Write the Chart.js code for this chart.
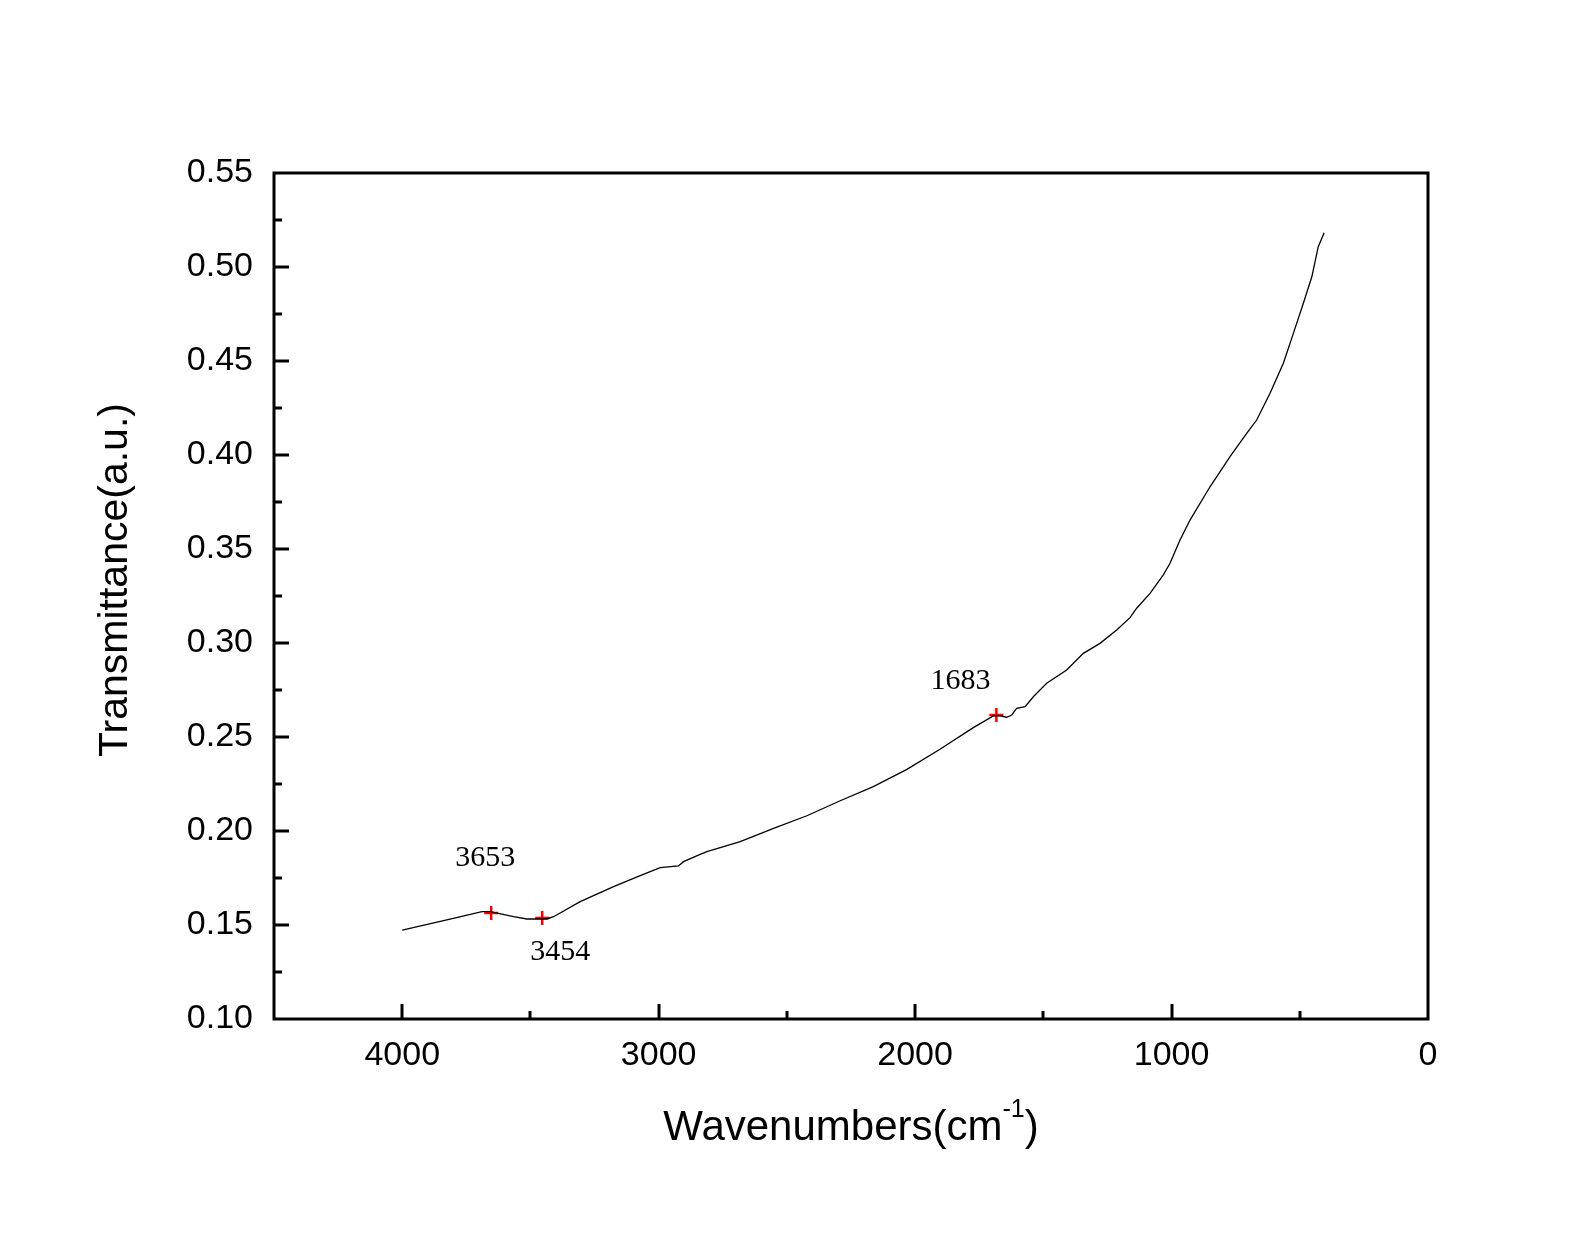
<!DOCTYPE html>
<html>
<head>
<meta charset="utf-8">
<script src="https://cdn.jsdelivr.net/npm/chart.js@4/dist/chart.umd.min.js"></script>
<style>
  html, body { margin: 0; padding: 0; background: #fff; }
  canvas { display: block; }
</style>
</head>
<body>
<canvas id="ftir" width="1592" height="1238"></canvas>
<script>
// spectrum (wavenumber, transmittance)
const wavenumbers = [4000, 3826, 3689, 3657, 3566, 3514, 3436, 3410, 3306, 3176, 3072, 2994, 2923, 2903,
  2845, 2812, 2682, 2552, 2422, 2292, 2163, 2032, 1903, 1773, 1695, 1669, 1643, 1623, 1604, 1571, 1539,
  1487, 1409, 1344, 1279, 1214, 1162, 1136, 1084, 1032, 1006, 967, 928, 850, 772, 707, 668, 616, 564,
  525, 486, 453, 428, 405];
const transmittance = [0.1473, 0.1527, 0.1571, 0.1571, 0.1544, 0.1532, 0.1532, 0.1544, 0.1624, 0.1704,
  0.1763, 0.1805, 0.1814, 0.1837, 0.1872, 0.1890, 0.1943, 0.2014, 0.2081, 0.2161, 0.2236, 0.2328, 0.2435,
  0.2550, 0.2612, 0.2612, 0.2605, 0.2617, 0.2653, 0.2661, 0.2714, 0.2786, 0.2856, 0.2945, 0.2998, 0.3069,
  0.3135, 0.3185, 0.3264, 0.3362, 0.3424, 0.3548, 0.3654, 0.3831, 0.3991, 0.4115, 0.4186, 0.4328, 0.4488,
  0.4647, 0.4807, 0.4948, 0.5108, 0.5182];

// marked peaks
const peakLabels = ['3653', '3454', '1683'];
const peakX = [3653, 3454, 1683];
const peakY = [0.1564, 0.1537, 0.2617];

const xTitle = 'Wavenumbers(cm';
const xTitleSup = '-1';
const yTitle = 'Transmittance(a.u.)';

const sans = '"Liberation Sans", Arial, sans-serif';
const serif = '"Liberation Serif", "Times New Roman", serif';

// label offsets from each marker, in pixels
const labelOffsets = [[-6, -55], [18, 34], [-36, -34]];

const framePlugin = {
  id: 'frame',
  afterDatasetsDraw(chart) {
    const ctx = chart.ctx;
    const a = chart.chartArea;
    const xs = chart.scales.x, ys = chart.scales.y;
    ctx.save();
    ctx.strokeStyle = '#000';
    ctx.lineWidth = 3;
    ctx.strokeRect(a.left, a.top, a.right - a.left, a.bottom - a.top);

    // inward ticks
    ctx.beginPath();
    xs.ticks.forEach(t => {
      const px = Math.round(xs.getPixelForValue(t.value));
      if (px <= a.left + 2 || px >= a.right - 2) return;
      const len = (Math.round(t.value) % 1000 === 0) ? 15 : 8;
      ctx.moveTo(px, a.bottom);
      ctx.lineTo(px, a.bottom - len);
    });
    ys.ticks.forEach(t => {
      const py = Math.round(ys.getPixelForValue(t.value));
      if (py <= a.top + 2 || py >= a.bottom - 2) return;
      const len = (Math.round(t.value * 1000) % 50 === 0) ? 15 : 8;
      ctx.moveTo(a.left, py);
      ctx.lineTo(a.left + len, py);
    });
    ctx.stroke();

    // peak labels
    ctx.fillStyle = '#000';
    ctx.font = '30px ' + serif;
    ctx.textAlign = 'center';
    ctx.textBaseline = 'middle';
    peakLabels.forEach((lab, i) => {
      const px = xs.getPixelForValue(peakX[i]);
      const py = ys.getPixelForValue(peakY[i]);
      ctx.fillText(lab, px + labelOffsets[i][0], py + labelOffsets[i][1]);
    });

    // x title with superscript
    ctx.font = '42px ' + sans;
    ctx.textBaseline = 'alphabetic';
    ctx.textAlign = 'left';
    const w1 = ctx.measureText(xTitle).width;
    ctx.font = '25px ' + sans;
    const w2 = ctx.measureText(xTitleSup).width;
    ctx.font = '42px ' + sans;
    const w3 = ctx.measureText(')').width;
    const cx = (a.left + a.right) / 2;
    const x0 = cx - (w1 + w2 + w3) / 2;
    const base = 1140;
    ctx.fillText(xTitle, x0, base);
    ctx.font = '25px ' + sans;
    ctx.fillText(xTitleSup, x0 + w1, base - 23);
    ctx.font = '42px ' + sans;
    ctx.fillText(')', x0 + w1 + w2, base);

    // y title
    ctx.translate(127, 580);
    ctx.rotate(-Math.PI / 2);
    ctx.font = '41px ' + sans;
    ctx.textAlign = 'center';
    ctx.textBaseline = 'alphabetic';
    ctx.fillText(yTitle, 0, 0);
    ctx.restore();
  }
};

new Chart(document.getElementById('ftir'), {
  type: 'line',
  data: {
    datasets: [
      {
        data: wavenumbers.map((w, i) => ({ x: w, y: transmittance[i] })),
        borderColor: '#000',
        borderWidth: 1.3,
        pointRadius: 0,
        tension: 0,
        fill: false
      },
      {
        data: peakX.map((w, i) => ({ x: w, y: peakY[i] })),
        showLine: false,
        pointStyle: 'cross',
        pointRadius: 7,
        pointBorderWidth: 2.5,
        pointBorderColor: '#ff0000',
        pointBackgroundColor: '#ff0000'
      }
    ]
  },
  options: {
    responsive: false,
    animation: false,
    layout: { padding: { left: 0, right: 164, top: 173, bottom: 0 } },
    plugins: { legend: { display: false }, tooltip: { enabled: false } },
    scales: {
      x: {
        type: 'linear',
        reverse: true,
        min: 0,
        max: 4500,
        grid: { display: false, drawTicks: false },
        border: { display: false },
        ticks: {
          stepSize: 500,
          autoSkip: false,
          maxRotation: 0,
          padding: 16,
          color: '#000',
          font: { family: sans, size: 34 },
          callback: v => (Math.round(v) % 1000 === 0 && v < 4500) ? String(v) : ''
        },
        afterFit: s => { s.height = 219; }
      },
      y: {
        min: 0.10,
        max: 0.55,
        grid: { display: false, drawTicks: false },
        border: { display: false },
        ticks: {
          stepSize: 0.025,
          autoSkip: false,
          padding: 21,
          color: '#000',
          font: { family: sans, size: 34 },
          callback: v => (Math.round(v * 1000) % 50 === 0) ? v.toFixed(2) : ''
        },
        afterFit: s => { s.width = 274; }
      }
    }
  },
  plugins: [framePlugin]
});
</script>
</body>
</html>
